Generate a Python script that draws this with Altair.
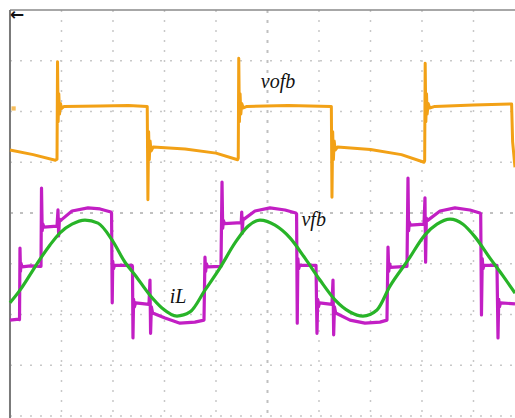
import altair as alt
import pandas as pd

vofb_t = [0.000, 0.45, 0.88, 0.913, 0.923, 0.935, 0.948, 0.962, 0.98, 1.00, 1.05, 1.75, 2.30, 2.665,
          2.678, 2.692, 2.705, 2.72, 2.74, 2.78, 3.40, 4.00, 4.42, 4.432, 4.442, 4.455, 4.468, 4.482,
          4.50, 4.53, 4.60, 5.40, 6.24, 6.252, 6.266, 6.28, 6.295, 6.315, 6.36, 7.00, 7.60, 8.04,
          8.052, 8.062, 8.075, 8.088, 8.10, 8.12, 8.15, 8.25, 9.00, 9.74, 9.76, 9.806]
vofb_v = [1.24, 1.15, 1.04, 1.06, 2.98, 1.80, 2.35, 1.95, 2.16, 2.06, 2.10, 2.11, 2.12, 2.10,
          0.26, 1.60, 1.05, 1.42, 1.22, 1.30, 1.26, 1.18, 1.05, 1.08, 3.05, 1.80, 2.35, 1.95,
          2.16, 2.07, 2.10, 2.12, 2.10, 0.31, 1.60, 1.05, 1.42, 1.24, 1.30, 1.25, 1.15, 1.00,
          1.03, 2.95, 1.80, 2.35, 1.95, 2.16, 2.07, 2.10, 2.13, 2.15, 1.40, 0.90]

vfb_t = [0.000, 0.175, 0.185, 0.194, 0.204, 0.214, 0.233, 0.40, 0.583, 0.602, 0.612, 0.625, 0.640,
         0.660, 0.913, 0.932, 0.945, 0.960, 0.980, 1.204, 1.515, 1.748, 1.960, 1.972, 1.985, 1.995,
         2.010, 2.030, 2.369, 2.378, 2.388, 2.400, 2.415, 2.440, 2.699, 2.718, 2.730, 2.745, 2.770,
         3.010, 3.300, 3.590, 3.767, 3.786, 3.800, 3.815, 3.835, 4.097, 4.117, 4.130, 4.145, 4.165,
         4.490, 4.500, 4.510, 4.525, 4.545, 4.757, 5.049, 5.340, 5.550, 5.565, 5.578, 5.590, 5.605,
         5.625, 5.942, 5.961, 5.975, 5.990, 6.010, 6.252, 6.272, 6.285, 6.300, 6.325, 6.602, 6.893,
         7.184, 7.320, 7.340, 7.355, 7.370, 7.390, 7.709, 7.728, 7.740, 7.755, 7.775, 8.039, 8.058,
         8.070, 8.085, 8.105, 8.350, 8.640, 8.930, 9.125, 9.140, 9.155, 9.170, 9.185, 9.205, 9.456,
         9.476, 9.490, 9.505, 9.525, 9.806]
vfb_v = [-2.11, -2.09, -2.10, -0.69, -1.15, -0.99, -1.06, -1.04, -1.05, -1.05, 0.49, -0.35, -0.22,
         -0.28, -0.26, 0.06, -0.45, -0.12, -0.15, 0.04, 0.10, 0.08, 0.02, 0.00, -1.77, -0.95,
         -1.10, -1.03, -1.03, -1.05, -2.46, -1.70, -1.85, -1.77, -1.80, -1.32, -2.37, -1.85, -1.97,
         -2.07, -2.17, -2.15, -2.11, -0.87, -1.15, -1.00, -1.06, -1.05, 0.61, -0.30, -0.15, -0.21,
         -0.19, 0.02, -0.40, -0.10, -0.12, 0.04, 0.10, 0.06, 0.00, -0.02, -2.17, -0.90, -1.10,
         -1.03, -1.03, -2.37, -1.70, -1.85, -1.77, -1.80, -1.32, -2.40, -1.85, -1.97, -2.11, -2.17,
         -2.15, -2.11, -0.67, -1.15, -1.00, -1.07, -1.05, 0.69, -0.35, -0.18, -0.24, -0.22, 0.30,
         -0.97, -0.10, -0.15, 0.04, 0.10, 0.06, 0.00, -0.02, -2.01, -0.90, -1.10, -1.03, -1.03,
         -2.46, -1.70, -1.85, -1.77, -1.79]

il_t = [0.000, 0.194, 0.388, 0.583, 0.777, 0.971, 1.204, 1.456, 1.709, 1.981, 2.233, 2.427, 2.718,
        2.951, 3.243, 3.495, 3.786, 4.078, 4.369, 4.621, 4.854, 5.146, 5.437, 5.728, 6.019, 6.311,
        6.602, 6.854, 7.126, 7.379, 7.728, 8.058, 8.291, 8.544, 8.796, 9.029, 9.320, 9.573, 9.806]
il_v = [-1.77, -1.52, -1.22, -0.91, -0.63, -0.39, -0.22, -0.14, -0.20, -0.53, -0.97, -1.22, -1.62,
        -1.87, -2.03, -1.95, -1.52, -1.08, -0.59, -0.26, -0.14, -0.24, -0.49, -0.89, -1.32, -1.71,
        -1.95, -2.03, -1.91, -1.44, -0.93, -0.43, -0.22, -0.12, -0.22, -0.47, -0.89, -1.24, -1.58]

label_text = ["vofb", "vfb", "iL"]
label_t = [4.87, 5.66, 3.10]
label_v = [2.58, -0.14, -1.66]

grid_x = [1, 2, 3, 4, 6, 7, 8, 9]
grid_y = [-4, -3, -2, -1, 1, 2, 3]

# ---- scales: screen shows 8 vertical divisions and ~9.8 horizontal divisions ----
xs = alt.Scale(domain=[-0.194, 9.806], nice=False, zero=False)
ys = alt.Scale(domain=[-4.039, 4.197], nice=False, zero=False)
X_END = 9.806

def series(t, v):
    return pd.DataFrame({"t": t, "v": v, "i": list(range(len(t)))})

def vrules(xvals, y_top, y_bot, color, width, dash=None):
    df = pd.DataFrame({"x": xvals, "ya": [y_top] * len(xvals), "yb": [y_bot] * len(xvals)})
    kw = dict(color=color, strokeWidth=width)
    if dash:
        kw["strokeDash"] = dash
    return alt.Chart(df).mark_rule(**kw).encode(
        x=alt.X("x:Q", scale=xs, axis=None),
        y=alt.Y("ya:Q", scale=ys, axis=None),
        y2="yb:Q",
    )

def hrules(yvals, x_left, x_right, color, width, dash=None):
    df = pd.DataFrame({"y": yvals, "xa": [x_left] * len(yvals), "xb": [x_right] * len(yvals)})
    kw = dict(color=color, strokeWidth=width)
    if dash:
        kw["strokeDash"] = dash
    return alt.Chart(df).mark_rule(**kw).encode(
        y=alt.Y("y:Q", scale=ys, axis=None),
        x=alt.X("xa:Q", scale=xs, axis=None),
        x2="xb:Q",
    )

grid_v = vrules(grid_x, 4.0, -4.0, "#c8c8c8", 1.5, [2, 8])
grid_h = hrules(grid_y, 0.0, X_END, "#c8c8c8", 1.5, [2, 8])
center_v = vrules([5], 4.0, -4.0, "#c0c0c0", 2, [3, 7])
center_h = hrules([0], 0.0, X_END, "#c0c0c0", 2, [3, 7])
frame_top = hrules([4], 0.0, X_END, "#8a8a8a", 1.5)
frame_left = vrules([0], 4.0, -4.039, "#7a7a7a", 2)

def trace(t, v, color, width, interp="linear"):
    return alt.Chart(series(t, v)).mark_line(
        color=color, strokeWidth=width, clip=True, strokeJoin="round", interpolate=interp
    ).encode(
        x=alt.X("t:Q", scale=xs, axis=None),
        y=alt.Y("v:Q", scale=ys, axis=None),
        order="i:Q",
    )

orange = trace(vofb_t, vofb_v, "#f2a116", 3.0)
magenta = trace(vfb_t, vfb_v, "#c21fc4", 3.2)
green = trace(il_t, il_v, "#28b428", 3.2, "monotone")

labels = alt.Chart(pd.DataFrame({"t": label_t, "v": label_v, "s": label_text})).mark_text(
    font="Liberation Serif", fontStyle="italic", fontSize=20, color="#111111",
    align="left", baseline="middle"
).encode(x=alt.X("t:Q", scale=xs, axis=None), y=alt.Y("v:Q", scale=ys, axis=None), text="s:N")

trigger = alt.Chart(pd.DataFrame({"t": [0.0], "v": [3.91], "s": ["←"]})).mark_text(
    font="DejaVu Sans", fontSize=17, fontWeight="bold", color="#111111",
    align="left", baseline="middle"
).encode(x=alt.X("t:Q", scale=xs, axis=None), y=alt.Y("v:Q", scale=ys, axis=None), text="s:N")

ch_marker = alt.Chart(pd.DataFrame({"t": [0.07], "v": [2.06]})).mark_point(
    shape="square", size=18, filled=True, color="#f2a116", opacity=0.7
).encode(x=alt.X("t:Q", scale=xs, axis=None), y=alt.Y("v:Q", scale=ys, axis=None))

chart = alt.layer(
    grid_v, grid_h, center_v, center_h, frame_top, frame_left,
    orange, magenta, green, labels, trigger, ch_marker
).properties(
    width=515, height=418, padding=0,
    autosize=alt.AutoSizeParams(type="none"),
    background="white",
).configure_view(strokeWidth=0)

chart.save("out.html", embed_options={"renderer": "svg", "actions": False})
